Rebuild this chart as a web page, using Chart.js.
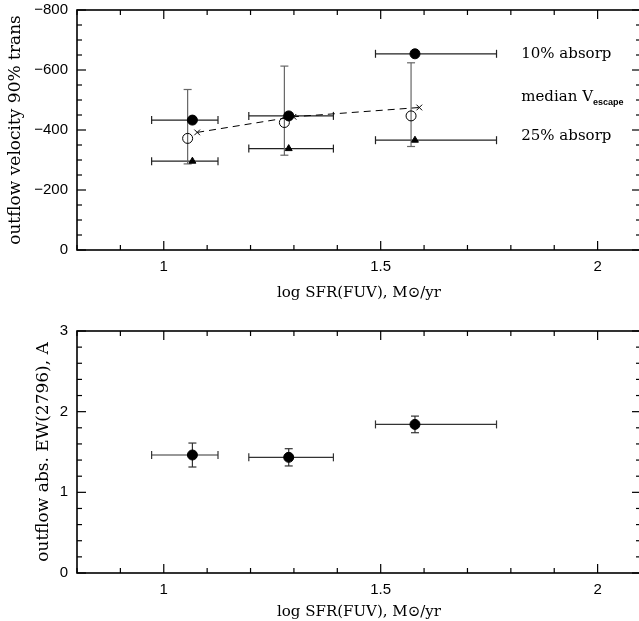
<!DOCTYPE html>
<html>
<head>
<meta charset="utf-8">
<script src="https://cdn.jsdelivr.net/npm/chart.js@4.4.0/dist/chart.umd.min.js"></script>
<style>
  html, body { margin: 0; padding: 0; background: #fff; overflow: hidden; width: 639px; height: 621px; }
  #topWrap { position: absolute; left: 0; top: 0; width: 660px; height: 310px; }
  #botWrap { position: absolute; left: 0; top: 310px; width: 660px; height: 311px; }
</style>
</head>
<body>
<div id="topWrap"><canvas id="velChart"></canvas></div>
<div id="botWrap"><canvas id="ewChart"></canvas></div>
<script>
// bins em log SFR(FUV)
const sfr = [1.066, 1.288, 1.579]
const sfrLo = [0.972, 1.196, 1.488]
const sfrHi = [1.125, 1.391, 1.767]
const sfrMedian = [1.055, 1.278, 1.570]
const sfrEscape = [1.077, 1.299, 1.589]

// velocidades (km/s)
const vel10 = [-433, -447, -654]
const vel25 = [-296, -338, -366]
const velMedian = [-372, -425, -447]
const velMedianLo = [-287, -316, -345]
const velMedianHi = [-535, -613, -624]
const velEscape = [-392, -444, -475]

// largura equivalente EW(2796)
const ew = [1.463, 1.434, 1.842]
const ewLo = [1.314, 1.327, 1.739]
const ewHi = [1.611, 1.541, 1.945]

// ticks
const xTicks = [1, 1.5, 2]
const velTicks = [-800, -600, -400, -200, 0]
const ewTicks = [0, 1, 2, 3]

const sansFont = { family: "'Liberation Sans', Arial, sans-serif", size: 15 }
const serifFont = { family: "'DejaVu Serif', serif", size: 15 }
const serifFontY = { family: "'DejaVu Serif', serif", size: 17 }

function pts(xs, ys) {
    return xs.map((x, i) => ({ x: x, y: ys[i] }))
}

function seg(ctx, x1, y1, x2, y2) {
    ctx.beginPath()
    ctx.moveTo(x1, y1)
    ctx.lineTo(x2, y2)
    ctx.stroke()
}

// barras de erro, desenhadas antes dos pontos
const errorBars = {
    id: 'errorBars',
    beforeDatasetsDraw(chart) {
        const ctx = chart.ctx
        const xs = chart.scales.x
        const ys = chart.scales.y
        chart.data.datasets.forEach(ds => {
            if (!ds.errX && !ds.errY) return
            ctx.save()
            ctx.lineWidth = 1.2
            ds.data.forEach((p, i) => {
                const px = xs.getPixelForValue(p.x)
                const py = ys.getPixelForValue(p.y)
                if (ds.errX) {
                    const a = xs.getPixelForValue(ds.errX[0][i])
                    const b = xs.getPixelForValue(ds.errX[1][i])
                    ctx.strokeStyle = ds.errXColor || '#222'
                    seg(ctx, a, py, b, py)
                    seg(ctx, a, py - 4, a, py + 4)
                    seg(ctx, b, py - 4, b, py + 4)
                }
                if (ds.errY) {
                    const a = ys.getPixelForValue(ds.errY[0][i])
                    const b = ys.getPixelForValue(ds.errY[1][i])
                    ctx.strokeStyle = ds.errYColor || '#444'
                    seg(ctx, px, a, px, b)
                    seg(ctx, px - 4, a, px + 4, a)
                    seg(ctx, px - 4, b, px + 4, b)
                }
            })
            ctx.restore()
        })
    }
}

// moldura com ticks para dentro nos quatro lados
const frameTicks = {
    id: 'frameTicks',
    afterDraw(chart, args, opts) {
        const ctx = chart.ctx
        const a = chart.chartArea
        const xs = chart.scales.x
        const ys = chart.scales.y
        ctx.save()
        ctx.strokeStyle = '#000'
        ctx.lineWidth = 1.2
        const xMinor = []
        for (let v = opts.xMin; v <= opts.xMax + 1e-9; v += opts.xStep) xMinor.push(v)
        const yMinor = []
        for (let v = opts.yMin; v <= opts.yMax + 1e-9; v += opts.yStep) yMinor.push(v)
        xMinor.forEach(v => {
            const px = xs.getPixelForValue(v)
            const major = xTicks.some(t => Math.abs(t - v) < 1e-6)
            const len = major ? 9 : 5
            seg(ctx, px, a.bottom, px, a.bottom - len)
            seg(ctx, px, a.top, px, a.top + len)
        })
        yMinor.forEach(v => {
            const py = ys.getPixelForValue(v)
            const major = opts.yMajor.some(t => Math.abs(t - v) < 1e-6)
            const len = major ? 9 : 5
            seg(ctx, a.left, py, a.left + len, py)
            seg(ctx, a.right, py, a.right - len, py)
        })
        ctx.lineWidth = 1.6
        ctx.strokeRect(a.left, a.top, a.right - a.left, a.bottom - a.top)
        ctx.restore()
    }
}

// textos ao lado direito do painel de cima
const sideNotes = {
    id: 'sideNotes',
    afterDatasetsDraw(chart, args, opts) {
        if (!opts.items) return
        const ctx = chart.ctx
        ctx.save()
        ctx.fillStyle = '#000'
        ctx.textBaseline = 'middle'
        opts.items.forEach(it => {
            const px = chart.scales.x.getPixelForValue(it.x)
            const py = chart.scales.y.getPixelForValue(it.y)
            ctx.font = "15px 'DejaVu Serif', serif"
            ctx.fillText(it.text, px, py)
            if (it.sub) {
                const w = ctx.measureText(it.text).width
                ctx.font = "bold 9px 'Liberation Sans', Arial, sans-serif"
                ctx.fillText(it.sub, px + w, py + 5)
            }
        })
        ctx.restore()
    }
}

function minusLabel(v) {
    return v < 0 ? '\u2212' + Math.abs(v) : String(v)
}

function xScale(h, titlePad) {
    return {
        type: 'linear',
        min: 0.8,
        max: 2.1,
        grid: { display: false, drawTicks: false },
        border: { display: false },
        afterBuildTicks: s => { s.ticks = xTicks.map(v => ({ value: v })) },
        afterFit: s => { s.height = h; s.paddingLeft = 0; s.paddingRight = 0 },
        ticks: { font: sansFont, color: '#000', padding: 8, maxRotation: 0, callback: v => String(v) },
        title: { display: true, text: 'log SFR(FUV), M\u2299/yr', font: serifFont, color: '#000', padding: { top: 0, bottom: titlePad } }
    }
}

const velChart = new Chart(document.getElementById('velChart'), {
    type: 'scatter',
    data: {
        datasets: [
            {
                label: '25% absorp',
                data: pts(sfr, vel25),
                errX: [sfrLo, sfrHi],
                pointStyle: 'triangle',
                pointRadius: 4,
                backgroundColor: '#000',
                borderColor: '#000'
            },
            {
                label: 'median',
                data: pts(sfrMedian, velMedian),
                errY: [velMedianLo, velMedianHi],
                errYColor: '#666',
                pointStyle: 'circle',
                pointRadius: 5,
                borderWidth: 1,
                backgroundColor: 'rgba(0,0,0,0)',
                borderColor: '#000'
            },
            {
                label: 'median V escape',
                data: pts(sfrEscape, velEscape),
                showLine: true,
                borderDash: [7, 5],
                borderWidth: 1,
                pointStyle: 'crossRot',
                pointRadius: 4,
                pointBorderWidth: 1,
                borderColor: '#000',
                backgroundColor: '#000'
            },
            {
                label: '10% absorp',
                data: pts(sfr, vel10),
                errX: [sfrLo, sfrHi],
                pointStyle: 'circle',
                pointRadius: 5,
                backgroundColor: '#000',
                borderColor: '#000'
            }
        ]
    },
    options: {
        responsive: true,
        maintainAspectRatio: false,
        animation: false,
        layout: { padding: { top: 10, right: 19, left: 0, bottom: 0 } },
        plugins: {
            legend: { display: false },
            tooltip: { enabled: false },
            frameTicks: { xMin: 0.8, xMax: 2.1, xStep: 0.1, yMin: -800, yMax: 0, yStep: 50, yMajor: velTicks },
            sideNotes: {
                items: [
                    { x: 1.824, y: -654, text: '10% absorp' },
                    { x: 1.824, y: -508, text: 'median V', sub: 'escape' },
                    { x: 1.824, y: -381, text: '25% absorp' }
                ]
            }
        },
        scales: {
            x: xScale(60, 8),
            y: {
                type: 'linear',
                min: -800,
                max: 0,
                reverse: true,
                grid: { display: false, drawTicks: false },
                border: { display: false },
                afterBuildTicks: s => { s.ticks = velTicks.map(v => ({ value: v })) },
                afterFit: s => { s.width = 77; s.paddingTop = 0; s.paddingBottom = 0 },
                ticks: { font: sansFont, color: '#000', padding: 9, callback: minusLabel },
                title: { display: true, text: 'outflow velocity 90% trans', font: serifFontY, color: '#000', padding: { top: 5, bottom: 0 } }
            }
        }
    },
    plugins: [errorBars, frameTicks, sideNotes]
})

const ewChart = new Chart(document.getElementById('ewChart'), {
    type: 'scatter',
    data: {
        datasets: [
            {
                label: 'EW(2796)',
                data: pts(sfr, ew),
                errX: [sfrLo, sfrHi],
                errY: [ewLo, ewHi],
                errXColor: '#333',
                errYColor: '#333',
                pointStyle: 'circle',
                pointRadius: 5,
                backgroundColor: '#000',
                borderColor: '#000'
            }
        ]
    },
    options: {
        responsive: true,
        maintainAspectRatio: false,
        animation: false,
        layout: { padding: { top: 21, right: 19, left: 0, bottom: 0 } },
        plugins: {
            legend: { display: false },
            tooltip: { enabled: false },
            frameTicks: { xMin: 0.8, xMax: 2.1, xStep: 0.1, yMin: 0, yMax: 3, yStep: 0.2, yMajor: ewTicks }
        },
        scales: {
            x: xScale(48, 0),
            y: {
                type: 'linear',
                min: 0,
                max: 3,
                grid: { display: false, drawTicks: false },
                border: { display: false },
                afterBuildTicks: s => { s.ticks = ewTicks.map(v => ({ value: v })) },
                afterFit: s => { s.width = 77; s.paddingTop = 0; s.paddingBottom = 0 },
                ticks: { font: sansFont, color: '#000', padding: 9, callback: v => String(v) },
                title: { display: true, text: 'outflow abs. EW(2796), A', font: serifFontY, color: '#000', padding: { top: 33, bottom: 0 } }
            }
        }
    },
    plugins: [errorBars, frameTicks]
})
</script>
</body>
</html>
